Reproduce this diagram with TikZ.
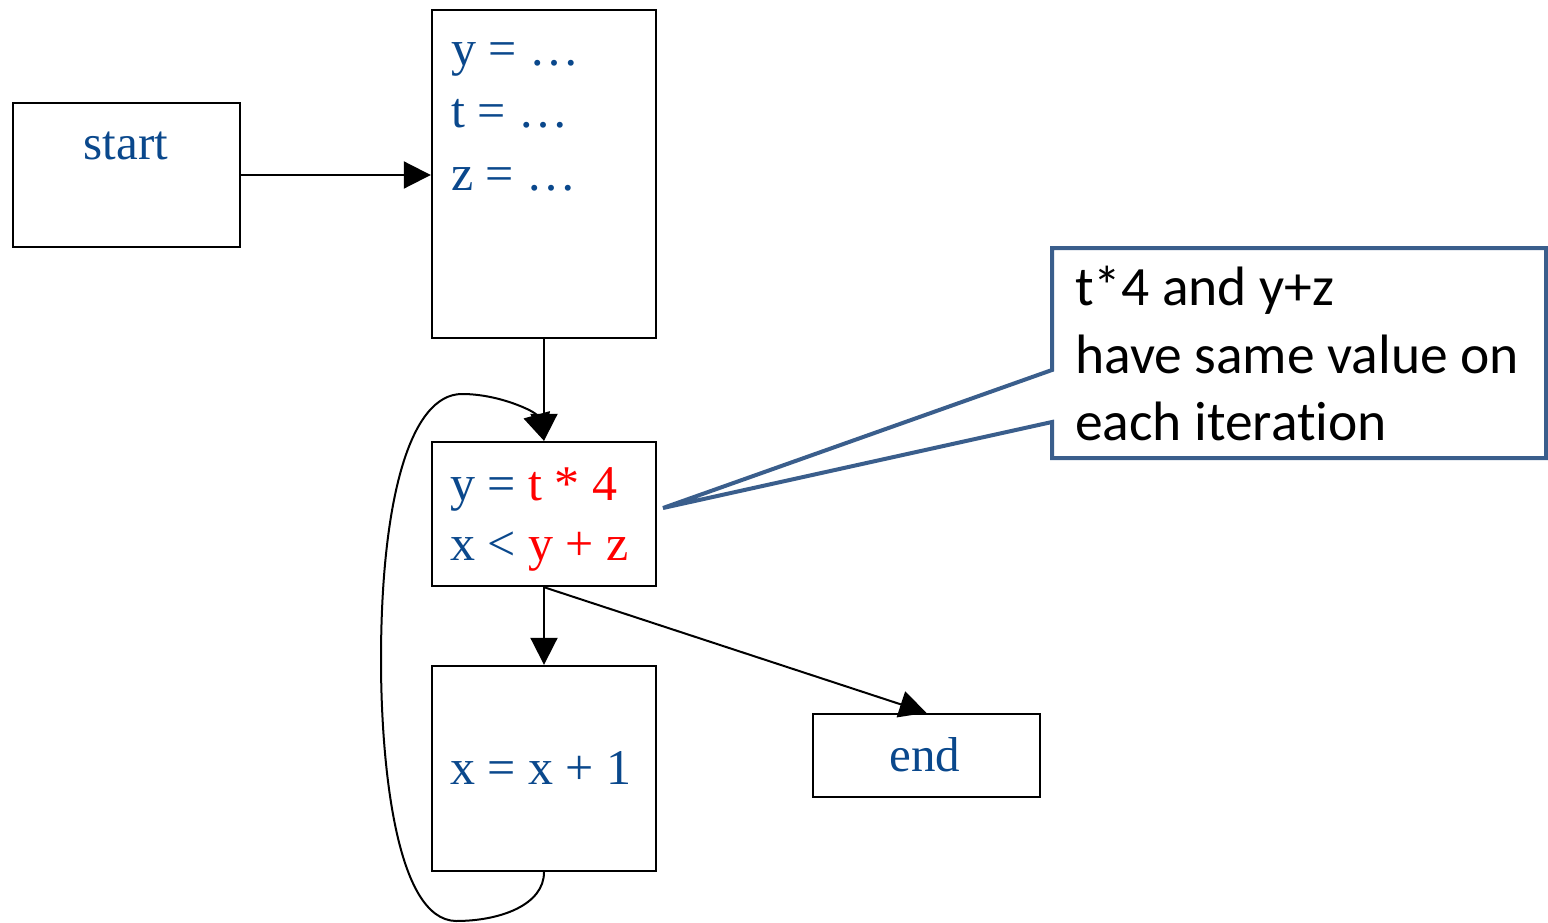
\documentclass[tikz,border=0pt]{standalone}
\usepackage{fontspec}
\setmainfont{Liberation Serif}
\newfontfamily\notefont[Ligatures={NoCommon}]{Carlito}
\usetikzlibrary{arrows.meta}
\definecolor{codeblue}{RGB}{10,72,140}
\definecolor{codered}{RGB}{255,0,0}
\definecolor{noteblue}{RGB}{58,94,140}
\begin{document}
\begin{tikzpicture}[x=1pt,y=-1pt,
  box/.style={draw=black,line width=2.4pt,rectangle,inner sep=0pt,fill=white},
  code/.style={anchor=base west,inner sep=0pt,text=codeblue,font=\fontsize{50}{60}\selectfont},
  ctext/.style={anchor=base,inner sep=0pt,text=codeblue,font=\fontsize{49}{58}\selectfont},
  arr/.style={draw=black,line width=2pt,-{Triangle[length=27pt,width=27pt]}},
  note/.style={anchor=base west,inner sep=0pt,text=black,font=\notefont\fontsize{55.5}{64}\selectfont}]
\useasboundingbox (0,0) rectangle (1548,923);
% boxes
\node[box,minimum width=227pt,minimum height=144pt] (start) at (126.5,175) {};
\node[box,minimum width=224pt,minimum height=328pt] (b1) at (544,174) {};
\node[box,minimum width=224pt,minimum height=144pt] (b2) at (544,514) {};
\node[box,minimum width=224pt,minimum height=205pt] (b3) at (544,768.5) {};
\node[box,minimum width=227pt,minimum height=83pt] (endn) at (926.5,755.5) {};
% texts
\node[ctext] (tstart) at (126,160) {start};
\node[code] (l1) at (451,66) {y = …};
\node[code] (l2) at (451,128) {t = …};
\node[code] (l3) at (451,190) {z = …};
\node[code] (l4) at (450,500) {y = \textcolor{codered}{t * 4}};
\node[code] (l5) at (450,560) {x < \textcolor{codered}{y + z}};
\node[code] (l6) at (450,784) {x = x + 1};
\node[ctext] (tend) at (925,771) {end};
% connectors
\draw[arr] (start.east |- 0,175) -- (b1.west |- 0,175);
\draw[arr] (b1.south) -- (b2.north);
\draw[arr] (b2.south) -- (b3.north);
\draw[arr] (b2.south) -- (endn.north);
\draw[arr] (b3.south) .. controls (544,905) and (500,921) .. (456,921)
  .. controls (395,920) and (381,760) .. (381,660)
  .. controls (381,500) and (410,394) .. (462,394)
  .. controls (500,394) and (536,412) .. (b2.north);
% callout
\draw[noteblue,line width=4pt,fill=white,line join=miter]
  (1052,248) -- (1546,248) -- (1546,458) -- (1052,458) -- (1052,422)
  -- (663,508) -- (1052,370) -- cycle;
\node[note] (n1) at (1075,305) {t*4 and y+z};
\node[note] (n2) at (1075,373) {have same value on};
\node[note] (n3) at (1075,440) {each iteration};
\end{tikzpicture}
\end{document}
